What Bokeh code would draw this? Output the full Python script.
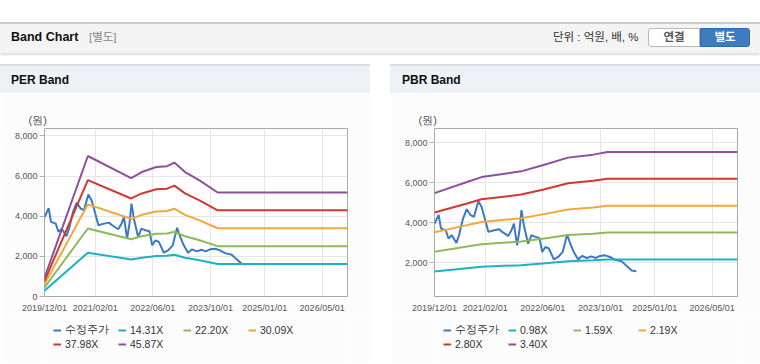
from datetime import datetime
from bokeh.plotting import figure
from bokeh.models import (Range1d, FixedTicker, DatetimeTickFormatter, NumeralTickFormatter,
                          Legend, LegendItem, Div, Spacer, Title)
from bokeh.layouts import column, row
from bokeh.embed import file_html
from bokeh.resources import INLINE

# ---------------- data ----------------
price_dates = ["2019-12-01", "2020-01-05", "2020-01-25", "2020-03-05", "2020-03-28", "2020-04-25",
               "2020-06-03", "2020-06-25", "2020-07-28", "2020-08-29", "2020-10-01", "2020-10-29",
               "2020-12-05", "2021-01-01", "2021-02-01", "2021-02-28", "2021-04-17", "2021-05-29",
               "2021-06-24", "2021-08-14", "2021-09-11", "2021-10-01", "2021-10-28", "2021-11-17",
               "2021-12-04", "2021-12-24", "2022-01-29", "2022-02-26", "2022-03-31", "2022-05-05",
               "2022-05-28", "2022-06-24", "2022-07-23", "2022-09-03", "2022-10-09", "2022-11-17",
               "2022-12-24", "2023-01-20", "2023-02-18", "2023-03-26", "2023-04-29", "2023-06-10",
               "2023-07-16", "2023-08-24", "2023-09-28", "2023-11-10", "2023-12-21", "2024-02-02",
               "2024-03-29", "2024-05-10", "2024-06-21", "2024-07-30"]
price_values = [3950, 4400, 3720, 3630, 3220, 3380, 3000, 3380, 4200, 4680, 4380, 4300,
                5080, 4800, 4130, 3550, 3630, 3680, 3550, 3350, 3630, 3960, 2880, 3630,
                4630, 3880, 2960, 3380, 3300, 3250, 2550, 2800, 2720, 2180, 2300, 2550,
                3420, 2960, 2550, 2180, 2350, 2250, 2330, 2250, 2350, 2380, 2300, 2160,
                2080, 1850, 1630, 1590]

per_band_dates = ["2019-12-01", "2020-12-01", "2021-12-01", "2022-03-01", "2022-07-01", "2022-10-01",
                  "2022-12-01", "2023-03-01", "2023-07-01", "2023-12-01", "2026-12-01"]
per_labels = ["14.31X", "22.20X", "30.09X", "37.98X", "45.87X"]
per_14_31 = [290, 2184, 1840, 1935, 2012, 2025, 2081, 1935, 1805, 1617, 1617]
per_22_20 = [451, 3388, 2855, 3001, 3121, 3141, 3228, 3001, 2799, 2509, 2509]
per_30_09 = [611, 4592, 3870, 4068, 4231, 4258, 4375, 4068, 3794, 3400, 3400]
per_37_98 = [771, 5796, 4884, 5135, 5340, 5374, 5522, 5135, 4789, 4292, 4292]
per_45_87 = [931, 7000, 5899, 6202, 6449, 6491, 6670, 6202, 5784, 5183, 5183]

pbr_band_dates = ["2019-12-01", "2020-09-01", "2021-01-01", "2021-12-01", "2022-06-01",
                  "2023-01-01", "2023-08-01", "2023-12-01", "2026-12-01"]
pbr_labels = ["0.98X", "1.59X", "2.19X", "2.80X", "3.40X"]
pbr_0_98 = [1580, 1739, 1810, 1892, 1979, 2089, 2132, 2171, 2171]
pbr_1_59 = [2563, 2821, 2937, 3070, 3210, 3390, 3460, 3522, 3522]
pbr_2_19 = [3530, 3885, 4045, 4229, 4422, 4669, 4765, 4851, 4851]
pbr_2_80 = [4514, 4967, 5172, 5407, 5653, 5970, 6093, 6202, 6202]
pbr_3_40 = [5481, 6032, 6280, 6565, 6865, 7249, 7398, 7531, 7531]

x_tick_dates = ["2019-12-01", "2021-02-01", "2022-06-01", "2023-10-01", "2025-01-01", "2026-05-01"]
x_start, x_end = "2019-12-01", "2026-12-01"
per_y_ticks = [0, 2000, 4000, 6000, 8000]
pbr_y_ticks = [2000, 4000, 6000, 8000]
price_label = "수정주가"

price_color = "#3a78c8"
band_colors = ["#1db1c8", "#8dba5a", "#f3a83b", "#d2392c", "#8e4f9c"]

FONT = "Liberation Sans"
PANEL_BG = "#fcfcfc"


def d(s):
    return datetime.strptime(s, "%Y-%m-%d")


def ms(s):
    return (d(s) - datetime(1970, 1, 1)).total_seconds() * 1000.0


def make_chart(band_dates, bands, y0, y1, y_ticks):
    p = figure(width=370, height=223, x_axis_type="datetime",
               x_range=Range1d(d(x_start), d(x_end)), y_range=Range1d(y0, y1),
               output_backend="svg", toolbar_location=None,
               min_border_left=44, min_border_right=23,
               min_border_top=35, min_border_bottom=20)
    p.border_fill_color = PANEL_BG
    p.background_fill_color = "#ffffff"
    p.outline_line_color = "#a9a9a9"
    p.outline_line_width = 1

    p.title = Title(text="(원)", align="left", offset=-16, text_font_size="11px",
                    text_font_style="normal", text_color="#555555", text_font=FONT, standoff=6)

    xd = [d(s) for s in price_dates]
    p.line(xd, price_values, line_color=price_color, line_width=2)
    bd = [d(s) for s in band_dates]
    for vals, col in zip(bands, band_colors):
        p.line(bd, vals, line_color=col, line_width=2)

    xa = p.xaxis[0]
    xa.ticker = FixedTicker(ticks=[ms(s) for s in x_tick_dates])
    fmt = "%Y/%m/%d"
    xa.formatter = DatetimeTickFormatter(milliseconds=fmt, seconds=fmt, minsec=fmt, minutes=fmt,
                                         hourmin=fmt, hours=fmt, days=fmt, months=fmt, years=fmt)
    ya = p.yaxis[0]
    ya.ticker = FixedTicker(ticks=y_ticks)
    ya.formatter = NumeralTickFormatter(format="0,0")
    for ax in (xa, ya):
        ax.axis_line_color = None
        ax.major_label_text_font = FONT
        ax.major_label_text_font_size = "9px"
        ax.major_label_text_color = "#555555"
        ax.minor_tick_line_color = None
        ax.major_tick_in = 0
    xa.major_tick_out = 0
    xa.major_label_standoff = 6
    ya.major_tick_out = 5
    ya.major_tick_line_color = "#b0b0b0"
    ya.major_label_standoff = 2

    p.xgrid.grid_line_color = "#e6e6e6"
    p.ygrid.grid_line_color = "#e6e6e6"
    return p


def make_legend_fig(labels, band_dates, bands):
    # legend-only strip: the series are attached but lie outside its (empty) view
    lf = figure(width=370, height=46, output_backend="svg", toolbar_location=None,
                x_range=Range1d(0, 1), y_range=Range1d(0, 1), min_border=0,
                x_axis_location=None, y_axis_location=None)
    lf.grid.visible = False
    lf.outline_line_color = None
    lf.background_fill_color = PANEL_BG
    lf.border_fill_color = PANEL_BG
    names = [price_label] + labels
    colors = [price_color] + band_colors
    xs = [[ms(s) for s in price_dates]] + [[ms(s) for s in band_dates]] * len(bands)
    ys = [price_values] + list(bands)
    items = []
    for name, col, xv, yv in zip(names, colors, xs, ys):
        r = lf.line(x=xv, y=yv, line_color=col, line_width=2)
        items.append(LegendItem(label=name, renderers=[r]))

    def leg(its, loc):
        return Legend(items=its, location=loc, orientation="horizontal",
                      spacing=0, padding=0, margin=0, glyph_width=8, glyph_height=14,
                      label_height=14, label_width=53, label_standoff=4,
                      label_text_font=FONT, label_text_font_size="10.5px",
                      label_text_color="#333333", border_line_color=None,
                      background_fill_alpha=0)
    lf.add_layout(leg(items[:4], (9, 25)))
    lf.add_layout(leg(items[4:], (9, 11)))
    return lf


per_bands = [per_14_31, per_22_20, per_30_09, per_37_98, per_45_87]
pbr_bands = [pbr_0_98, pbr_1_59, pbr_2_19, pbr_2_80, pbr_3_40]
per_fig = make_chart(per_band_dates, per_bands, 0, 8370, per_y_ticks)
pbr_fig = make_chart(pbr_band_dates, pbr_bands, 330, 8700, pbr_y_ticks)
per_leg = make_legend_fig(per_labels, per_band_dates, per_bands)
pbr_leg = make_legend_fig(pbr_labels, pbr_band_dates, pbr_bands)

FF = "font-family:'Liberation Sans','Noto Sans CJK KR',sans-serif;"
header_html = (
    "<div style=\"position:relative;width:760px;height:31px;box-sizing:border-box;background:#f4f4f4;"
    "border-top:2px solid #cccccc;box-shadow:0 2px 2px rgba(0,0,0,0.13);" + FF + "\">"
    "<span style=\"position:absolute;left:11px;top:6px;line-height:15px;font-size:12.5px;font-weight:bold;color:#111;white-space:nowrap;\">Band Chart</span>"
    "<span style=\"position:absolute;left:89px;top:6px;line-height:15px;font-size:11.5px;color:#888;white-space:nowrap;\">[별도]</span>"
    "<span style=\"position:absolute;left:553px;top:6px;line-height:15px;font-size:11.5px;color:#333;white-space:nowrap;\">단위 : 억원, 배, %</span>"
    "<span style=\"position:absolute;left:648px;top:4px;width:52px;height:19px;box-sizing:border-box;border:1px solid #b9b9b9;"
    "border-radius:3px 0 0 3px;background:#fff;color:#555;font-size:11.5px;font-weight:bold;text-align:center;line-height:17px;\">연결</span>"
    "<span style=\"position:absolute;left:700px;top:4px;width:50px;height:19px;box-sizing:border-box;border:1px solid #2f6aaa;"
    "border-radius:0 3px 3px 0;background:#3d7cc0;color:#fff;font-size:11.5px;font-weight:bold;text-align:center;line-height:17px;\">별도</span>"
    "</div>")


def panel_header(text, left):
    html = ("<div style=\"position:relative;width:370px;height:29px;box-sizing:border-box;background:#eef2f7;"
            "border-top:2px solid #dddddd;" + FF + "\">"
            "<span style=\"position:absolute;left:%dpx;top:7px;line-height:15px;font-size:12px;font-weight:bold;color:#111;white-space:nowrap;\">%s</span>"
            "</div>" % (left, text))
    return Div(text=html, width=370, height=29, margin=0)


def panel_bottom():
    return Div(text="<div style=\"width:370px;height:2px;background:#dddddd;\"></div>",
               width=370, height=2, margin=0)


header = Div(text=header_html, width=760, height=31, margin=0)
left_col = column(panel_header("PER Band", 11), per_fig, per_leg, panel_bottom(), spacing=0)
right_col = column(panel_header("PBR Band", 12), pbr_fig, pbr_leg, panel_bottom(), spacing=0)
layout = column(Spacer(width=760, height=22), header, Spacer(width=760, height=11),
                row(left_col, Spacer(width=20, height=10), right_col, spacing=0), spacing=0)

open("out.html", "w").write(file_html(layout, INLINE))
